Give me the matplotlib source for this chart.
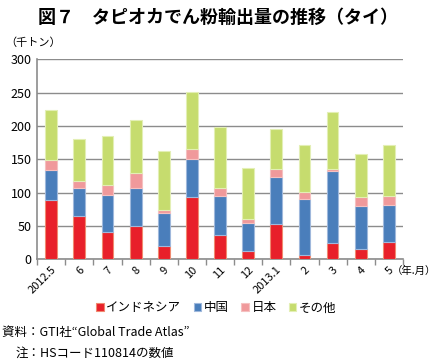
import numpy as np
import matplotlib.pyplot as plt

plt.rcParams['font.family'] = ['Noto Sans CJK JP', 'DejaVu Sans']

months = ['2012.5', '6', '7', '8', '9', '10', '11', '12', '2013.1', '2', '3', '4', '5']
indonesia = [89.5, 65.5, 41.5, 50.5, 20.5, 93.5, 36.5, 12.5, 53.5, 7, 24, 15, 26.5]
china = [45, 41, 54.5, 57, 49, 57.5, 58.5, 42, 70, 84, 108.5, 65.5, 55]
japan = [14.5, 10.5, 15.5, 22, 4.5, 14, 12.5, 5.5, 11.5, 10.5, 3.5, 13.5, 14]
other = [75, 63, 73.5, 80, 88, 85.5, 91, 77, 60, 70.5, 85, 64, 75.5]

series = [('インドネシア', indonesia, '#e8202a', '#f08a70'),
          ('中国', china, '#4a7ebb', '#9fb8dc'),
          ('日本', japan, '#f0999b', '#f5c0c0'),
          ('その他', other, '#c6dc6e', '#e3efb5')]

fig = plt.figure(figsize=(4.37, 3.64), dpi=100)
ax = fig.add_axes([0.085, 0.288, 0.837, 0.549])

x = np.arange(len(months))
bottom = np.zeros(len(months))
for name, vals, col, edge in series:
    ax.bar(x, vals, 0.42, bottom=bottom, color=col, edgecolor=edge,
           linewidth=0.8, label=name, zorder=3)
    bottom += np.array(vals)

ax.set_xlim(-0.5, len(months) - 0.5)
ax.set_ylim(0, 300)
ax.set_yticks(range(0, 301, 50))
ax.yaxis.grid(True, color='#8c8c8c', linewidth=1.0, zorder=0)
ax.tick_params(axis='y', length=0, labelsize=9, pad=4)
for s in ['top', 'right']:
    ax.spines[s].set_visible(False)
for s in ['left', 'bottom']:
    ax.spines[s].set_color('#8c8c8c')
    ax.spines[s].set_linewidth(1.2)

ax.set_xticks(np.arange(-0.5, len(months), 1))
ax.set_xticklabels([])
ax.tick_params(axis='x', length=4, color='#8c8c8c', width=1)
ax.set_xticks(x, minor=True)
ax.set_xticklabels(months, minor=True, rotation=45, ha='right', rotation_mode='anchor',
                   fontsize=8)
ax.tick_params(axis='x', which='minor', length=0, pad=4)

fig.text(0.5, 0.953, '図７　タピオカでん粉輸出量の推移（タイ）', ha='center', va='center',
         fontsize=13, fontweight='bold')
fig.text(0.012, 0.882, '（千トン）', ha='left', va='center', fontsize=8)
fig.text(0.897, 0.255, '（年.月）', ha='left', va='center', fontsize=7.5)

ax.legend(loc='upper center', bbox_to_anchor=(0.49, -0.155), ncol=4, frameon=False,
          fontsize=9, handlelength=0.6, handleheight=0.6, handletextpad=0.2,
          columnspacing=1.0)

fig.text(0.005, 0.088, '資料：GTI社“Global Trade Atlas”', ha='left', va='center', fontsize=9)
fig.text(0.035, 0.030, '注：HSコード110814の数値', ha='left', va='center', fontsize=9)

fig.savefig('out.png', dpi=100)
